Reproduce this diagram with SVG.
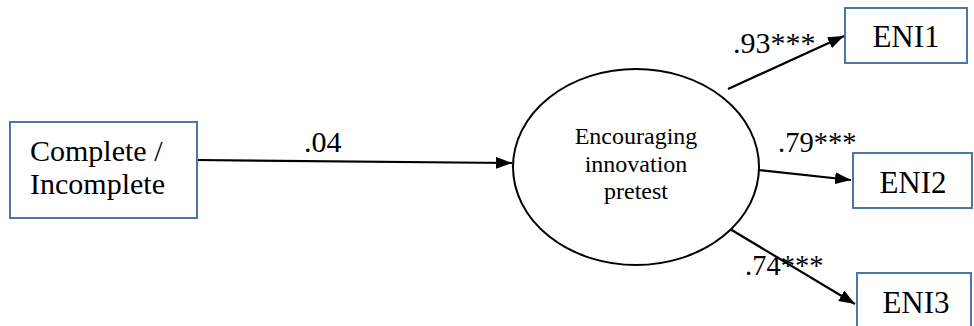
<svg xmlns="http://www.w3.org/2000/svg" width="974" height="326" viewBox="0 0 974 326">
  <style>
    .box { fill: #ffffff; stroke: #4a76a8; stroke-width: 2; }
    .latent { fill: #ffffff; stroke: #000000; stroke-width: 2; }
    text { font-family: 'Liberation Serif', 'Times New Roman', 'DejaVu Serif', serif; fill: #000000; }
    .big { font-size: 31px; }
    .src { font-size: 30px; }
    .mid { font-size: 24px; }
    .coef { font-size: 30px; }
    .coef-s { font-size: 28.5px; }
    .edge { stroke: #000000; stroke-width: 2.2; fill: none; marker-end: url(#head); }
  </style>
  <defs>
    <marker id="head" viewBox="0 0 16 12" refX="16" refY="6" markerWidth="16" markerHeight="12" markerUnits="userSpaceOnUse" orient="auto">
      <path d="M0,0 L16,6 L0,12 z" fill="#000000"/>
    </marker>
  </defs>
  <rect width="974" height="326" fill="#ffffff"/>

  <g id="connectors">
    <line class="edge" x1="197" y1="160" x2="512" y2="163"/>
    <line class="edge" x1="728" y1="89" x2="844" y2="36"/>
    <line class="edge" x1="758" y1="170" x2="851" y2="180"/>
    <line class="edge" x1="730" y1="229" x2="855" y2="304"/>
    <text class="coef" x="304" y="152">.04</text>
    <text class="coef" x="733" y="53">.93***</text>
    <text class="coef-s" x="778" y="152">.79***</text>
    <text class="coef-s" x="745" y="275">.74***</text>
  </g>

  <g id="complete">
    <rect class="box" x="10" y="122" width="187" height="96"/>
    <text class="src" x="30" y="161">Complete /</text>
    <text class="src" x="30" y="194">Incomplete</text>
  </g>

  <g id="encouraging">
    <ellipse class="latent" cx="636" cy="167" rx="123" ry="98"/>
    <text class="mid" x="636" y="144" text-anchor="middle">Encouraging</text>
    <text class="mid" x="636" y="172" text-anchor="middle">innovation</text>
    <text class="mid" x="636" y="199" text-anchor="middle">pretest</text>
  </g>

  <g id="eni1">
    <rect class="box" x="845" y="8" width="122" height="55"/>
    <text class="big" x="906" y="47" text-anchor="middle">ENI1</text>
  </g>

  <g id="eni2">
    <rect class="box" x="853" y="153" width="119" height="55"/>
    <text class="big" x="913" y="193" text-anchor="middle">ENI2</text>
  </g>

  <g id="eni3">
    <rect class="box" x="857" y="273" width="114" height="60"/>
    <text class="big" x="916" y="313" text-anchor="middle">ENI3</text>
  </g>
</svg>
